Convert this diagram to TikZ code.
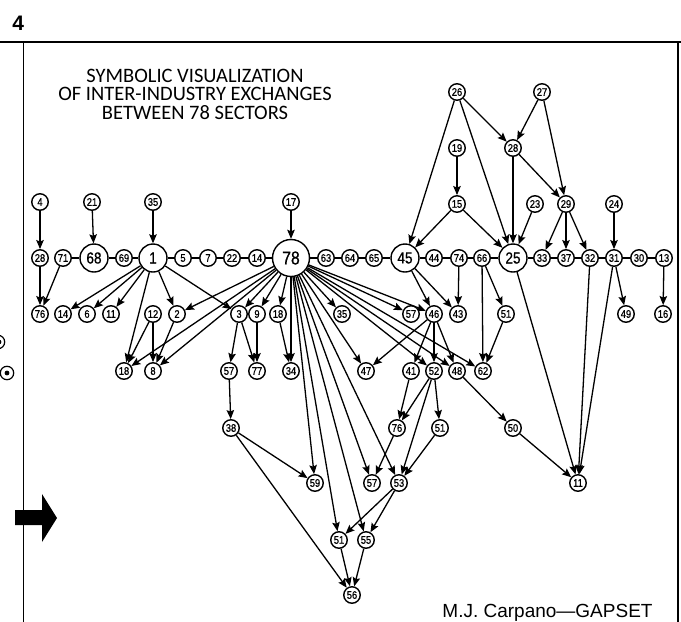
\documentclass[tikz,border=0pt]{standalone}
\usepackage{fontspec}
\setmainfont{Liberation Sans}
\newfontfamily\numfont[FakeStretch=0.85,FakeBold=0.8]{Liberation Sans}
\newfontfamily\headfont{Carlito}
\usetikzlibrary{arrows.meta,backgrounds}

\tikzset{
  sector/.style={circle, draw, line width=1.4pt, fill=white, inner sep=0pt,
    minimum size=16.5pt, font=\numfont\fontsize{11}{11}\selectfont},
  hub/.style={sector, minimum size=28pt, font=\numfont\fontsize{16}{16}\selectfont},
  bighub/.style={sector, minimum size=37pt, font=\numfont\fontsize{18.5}{18.5}\selectfont},
  flow/.style={line width=1.3pt, -{Stealth[length=9pt,width=7.5pt,inset=1.5pt]}},
  link/.style={line width=1.3pt},
  frame/.style={line width=1.8pt},
  headline/.style={anchor=base, inner sep=0pt, font=\headfont\fontsize{20.5}{20.5}\selectfont},
}

\begin{document}
\begin{tikzpicture}[x=1pt,y=-1pt]
\useasboundingbox (0,0) rectangle (681,622);

% page furniture
\node[anchor=base, inner sep=0pt, font=\bfseries\fontsize{21}{21}\selectfont] (pagenum) at (18.3,30) {4};
\draw[frame] (0,42) -- (681,42);
\draw[line width=1.6pt] (23.5,42) -- (23.5,622);
\draw[line width=1.6pt] (678,42) -- (678,622);
\draw[line width=1.2pt] (-2,342) circle (6.7);
\fill (-1,342) circle (2.4);
\draw[line width=1.2pt] (7,373) circle (6.7);
\fill (7,373) circle (2.4);
\fill (15,510) -- (42,510) -- (42,494) -- (57,518) -- (42,542) -- (42,525) -- (15,525) -- cycle;

% title and credit
\node[headline] (t1) at (195,82) {SYMBOLIC VISUALIZATION};
\node[headline] (t2) at (195,100.7) {OF INTER-INDUSTRY EXCHANGES};
\node[headline] (t3) at (195,119.4) {BETWEEN 78 SECTORS};
\node[anchor=base, inner sep=0pt, font=\fontsize{19}{19}\selectfont] (credit) at (547.5,617) {M.J. Carpano—GAPSET};

% sectors, row by row
\node[sector] (s26) at (457,92) {26};
\node[sector] (s27) at (542,92) {27};

\node[sector] (s19) at (457,148) {19};
\node[sector] (s28b) at (513,148) {28};

\node[sector] (s4) at (40,202) {4};
\node[sector] (s21) at (92,202) {21};
\node[sector] (s35a) at (153,202) {35};
\node[sector] (s17) at (291,202) {17};
\node[sector] (s15) at (457,204) {15};
\node[sector] (s23) at (535,204) {23};
\node[sector] (s29) at (566,204) {29};
\node[sector] (s24) at (614,204) {24};

\node[sector] (s28a) at (40,258) {28};
\node[sector] (s71) at (63,258) {71};
\node[hub] (s68) at (94,258) {68};
\node[sector] (s69) at (124,258) {69};
\node[hub] (s1) at (153,258) {1};
\node[sector] (s5) at (183,258) {5};
\node[sector] (s7) at (208,258) {7};
\node[sector] (s22) at (232,258) {22};
\node[sector] (s14a) at (257,258) {14};
\node[bighub] (s78) at (291,258) {78};
\node[sector] (s63) at (326,258) {63};
\node[sector] (s64) at (350,258) {64};
\node[sector] (s65) at (374,258) {65};
\node[hub] (s45) at (405,258) {45};
\node[sector] (s44) at (434,258) {44};
\node[sector] (s74) at (459,258) {74};
\node[sector] (s66) at (482,258) {66};
\node[hub] (s25) at (513,258) {25};
\node[sector] (s33) at (542,258) {33};
\node[sector] (s37) at (566,258) {37};
\node[sector] (s32) at (590,258) {32};
\node[sector] (s31) at (614,258) {31};
\node[sector] (s30) at (639,258) {30};
\node[sector] (s13) at (664,258) {13};

\node[sector] (s76a) at (40,314) {76};
\node[sector] (s14b) at (63,314) {14};
\node[sector] (s6) at (87,314) {6};
\node[sector] (s11a) at (111,314) {11};
\node[sector] (s12) at (153,314) {12};
\node[sector] (s2) at (177,314) {2};
\node[sector] (s3) at (239,314) {3};
\node[sector] (s9) at (257,314) {9};
\node[sector] (s18b) at (278,314) {18};
\node[sector] (s35b) at (342,314) {35};
\node[sector] (s57a) at (411,314) {57};
\node[sector] (s46) at (434,314) {46};
\node[sector] (s43) at (458,314) {43};
\node[sector] (s51a) at (506,314) {51};
\node[sector] (s49) at (626,314) {49};
\node[sector] (s16) at (663,314) {16};

\node[sector] (s18a) at (124,371) {18};
\node[sector] (s8) at (153,371) {8};
\node[sector] (s57b) at (229,371) {57};
\node[sector] (s77) at (257,371) {77};
\node[sector] (s34) at (291,371) {34};
\node[sector] (s47) at (366,371) {47};
\node[sector] (s41) at (411,371) {41};
\node[sector] (s52) at (434,371) {52};
\node[sector] (s48) at (457,371) {48};
\node[sector] (s62) at (483,371) {62};

\node[sector] (s38) at (231,428) {38};
\node[sector] (s76b) at (397,428) {76};
\node[sector] (s51b) at (440,428) {51};
\node[sector] (s50) at (513,428) {50};

\node[sector] (s59) at (315,483) {59};
\node[sector] (s57c) at (372,483) {57};
\node[sector] (s53) at (399,483) {53};
\node[sector] (s11b) at (578,483) {11};

\node[sector] (s51c) at (339,540) {51};
\node[sector] (s55) at (366,540) {55};

\node[sector] (s56) at (352,595) {56};

\begin{pgfonlayer}{background}
% the main row of linked sectors
\draw[link] (s71) -- (s68) -- (s69) -- (s1) -- (s5) -- (s7) -- (s22) -- (s14a) -- (s78)
  -- (s63) -- (s64) -- (s65) -- (s45) -- (s44) -- (s74) -- (s66) -- (s25)
  -- (s33) -- (s37) -- (s32) -- (s31) -- (s30) -- (s13);

% exchanges
\foreach \a/\b in {
  s4/s28a, s28a/s76a, s71/s76a, s21/s68, s35a/s1, s17/s78,
  s1/s14b, s1/s6, s1/s11a, s1/s18a, s1/s2, s1/s3,
  s12/s18a, s12/s8, s2/s8,
  s78/s2, s78/s18a, s78/s8, s78/s3, s78/s9, s78/s18b, s78/s34, s18b/s34,
  s3/s57b, s3/s77, s9/s77, s57b/s38, s38/s59, s38/s56,
  s78/s59, s78/s51c, s78/s55, s78/s57c, s78/s53,
  s78/s35b, s78/s47, s78/s57a, s78/s46, s78/s52, s78/s48, s78/s62,
  s26/s45, s26/s25, s26/s28b, s27/s28b, s27/s29, s28b/s25, s28b/s29,
  s19/s15, s15/s45, s15/s25, s23/s25,
  s29/s33, s29/s37, s29/s32, s24/s31, s31/s49, s13/s16,
  s45/s46, s45/s43, s74/s43, s66/s62, s66/s51a, s51a/s62,
  s25/s11b, s32/s11b, s31/s11b,
  s46/s47, s46/s41, s46/s52, s46/s48,
  s41/s76b, s52/s76b, s52/s53, s52/s51b, s51b/s53,
  s76b/s57c, s48/s50, s50/s11b,
  s53/s51c, s53/s55, s51c/s56, s55/s56}
  \draw[flow] (\a) -- (\b);
\end{pgfonlayer}
\end{tikzpicture}
\end{document}
